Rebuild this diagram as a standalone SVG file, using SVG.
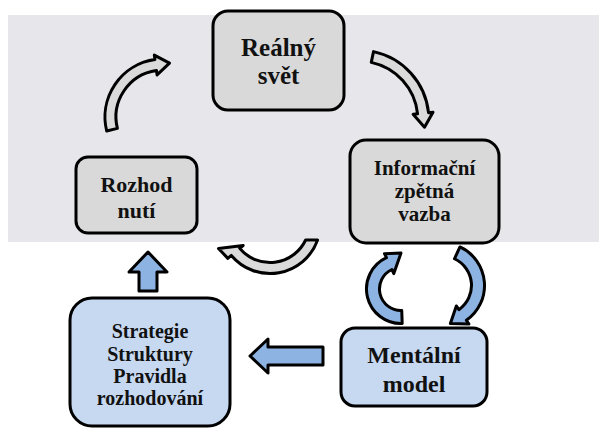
<svg xmlns="http://www.w3.org/2000/svg" width="599" height="430" viewBox="0 0 599 430">
  <style>
    .box { stroke: #000; stroke-width: 3; }
    .grey { fill: #d9d9d9; }
    .blue { fill: #c6d9f1; }
    .arrow { stroke: #000; stroke-width: 3; stroke-linejoin: round; }
    .arrow-grey { fill: #dadada; }
    .arrow-blue { fill: #8db3e2; }
    text { font-family: "Liberation Serif", "Times New Roman", serif; font-weight: bold; fill: #111; text-anchor: middle; }
  </style>

  <!-- page background and grey band -->
  <rect x="0" y="0" width="599" height="430" fill="#ffffff"/>
  <rect x="8" y="15" width="591" height="227" fill="#e6e6eb"/>

  <!-- connectors -->
  <g id="connectors">
    <!-- Rozhodnutí -> Reálný svět -->
    <path class="arrow arrow-grey" d="M106.72,131.03 A58,58 0 0 1 154.93,59.56 L154.30,55.11 L169.5,63.1 L157.08,74.91 L156.46,70.46 A47,47 0 0 0 117.40,128.37 Z"/>
    <!-- Reálný svět -> Informační zpětná vazba -->
    <path class="arrow arrow-grey" d="M373.53,51.63 A69.9,69.9 0 0 1 428.52,112.69 L432.99,112.22 L424.5,127.2 L413.10,114.31 L417.58,113.84 A58.9,58.9 0 0 0 371.25,62.39 Z"/>
    <!-- Informační zpětná vazba -> Rozhodnutí -->
    <path class="arrow arrow-grey" d="M317.6,240 A50.5,50.5 0 0 1 231.32,255.46 L227.87,258.35 L218.5,248.5 L243.19,245.50 L239.74,248.39 A39.5,39.5 0 0 0 305.65,240 Z"/>
    <!-- Mentální model -> Informační zpětná vazba -->
    <path class="arrow arrow-blue" d="M402.20,323.48 A34.5,34.5 0 0 1 386.42,257.73 L384.52,253.65 L401,253 L393.82,273.59 L391.91,269.51 A21.5,21.5 0 0 0 401.75,310.49 Z"/>
    <!-- Informační zpětná vazba -> Mentální model -->
    <path class="arrow arrow-blue" d="M459.96,246.98 A42.5,42.5 0 0 1 466.38,320.32 L468.96,324.00 L450.4,323.6 L456.34,305.98 L458.92,309.67 A29.5,29.5 0 0 0 454.47,258.76 Z"/>
    <!-- Strategie -> Rozhodnutí -->
    <path class="arrow arrow-blue" d="M148,252 L167,272 L157,272 L157,291 L139,291 L139,272 L129,272 Z"/>
    <!-- Mentální model -> Strategie -->
    <path class="arrow arrow-blue" d="M250,356 L268,339 L268,347 L323,347 L323,365 L268,365 L268,373 Z"/>
  </g>

  <g id="realny-svet">
    <rect class="box grey" x="213" y="11" width="131" height="99" rx="15"/>
    <text x="278.5" y="56" font-size="25">Reálný</text>
    <text x="278.5" y="84" font-size="25">svět</text>
  </g>

  <g id="informacni-zpetna-vazba">
    <rect class="box grey" x="350" y="140" width="149" height="103" rx="16"/>
    <text x="424.5" y="175" font-size="21">Informační</text>
    <text x="424.5" y="198" font-size="21">zpětná</text>
    <text x="424.5" y="221" font-size="21">vazba</text>
  </g>

  <g id="rozhodnuti">
    <rect class="box grey" x="76" y="157" width="121" height="76" rx="12"/>
    <text x="136.5" y="192" font-size="22">Rozhod</text>
    <text x="136.5" y="218" font-size="22">nutí</text>
  </g>

  <g id="strategie">
    <rect class="box blue" x="70" y="298" width="160" height="128" rx="22"/>
    <text x="150" y="338" font-size="20">Strategie</text>
    <text x="150" y="361" font-size="20">Struktury</text>
    <text x="150" y="383" font-size="20">Pravidla</text>
    <text x="150" y="405" font-size="20">rozhodování</text>
  </g>

  <g id="mentalni-model">
    <rect class="box blue" x="341" y="328" width="146" height="78" rx="14"/>
    <text x="414" y="363" font-size="24">Mentální</text>
    <text x="414" y="392" font-size="24">model</text>
  </g>
</svg>
